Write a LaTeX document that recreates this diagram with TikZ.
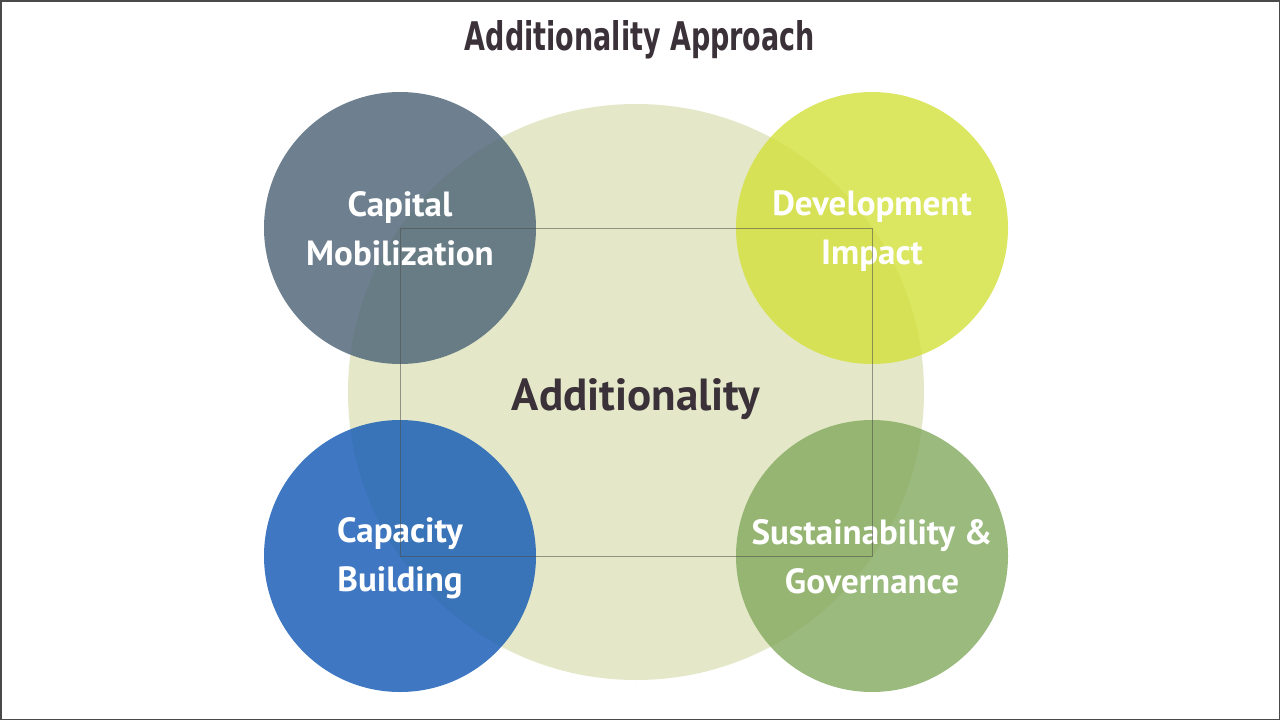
\documentclass[tikz,border=0pt]{standalone}
\usepackage{fontspec}
\setmainfont{PT Sans}
\newfontfamily\titlefont{DejaVu Sans Condensed}
\definecolor{bigc}{HTML}{E4E8C8}
\definecolor{ctl}{HTML}{4A6175}
\definecolor{ctr}{HTML}{D3E03A}
\definecolor{cbl}{HTML}{0F56B5}
\definecolor{cbr}{HTML}{83A95E}
\definecolor{darktxt}{HTML}{3B3139}
\definecolor{frame}{HTML}{4A4A4A}
\newcommand{\topstrut}{\rule{0pt}{30pt}}
\newcommand{\botstrut}{\rule[-5pt]{0pt}{5pt}}
\begin{document}
\begin{tikzpicture}[x=1pt,y=-1pt,
  smallc/.style={circle,inner sep=0pt,minimum size=272pt,fill opacity=0.8,text opacity=1,
    text=white,align=center,font=\bfseries\fontsize{35}{49}\selectfont},
]
\useasboundingbox (0,0) rectangle (1280,720);
\fill[white] (0,0) rectangle (1280,720);
\draw[frame,line width=1.5pt] (0.75,0.75) rectangle (1279.25,719.25);
\node[text=darktxt,anchor=base] (title) at (640,50) {\resizebox{350pt}{30pt}{\titlefont\bfseries Additionality Approach}};
\node[circle,inner sep=0pt,minimum size=576pt,fill=bigc] (big) at (636,392) {};
\node[smallc,fill=ctl] (tl) at (400,228) {\topstrut Capital\\Mobilization\botstrut};
\node[smallc,fill=ctr] (tr) at (872,228) {\topstrut Development\\Impact\botstrut};
\node[smallc,fill=cbl] (bl) at (400,556) {\topstrut Capacity\\Building\botstrut};
\node[smallc,fill=cbr] (br) at (872,556) {\topstrut Sustainability \&\\Governance\botstrut};
\draw[black!70,opacity=0.55,line width=1pt] (tl.center) rectangle (br.center);
\node[text=darktxt,font=\bfseries\fontsize{45}{50}\selectfont,anchor=base] (add) at (636,410) {Additionality};
\end{tikzpicture}
\end{document}
